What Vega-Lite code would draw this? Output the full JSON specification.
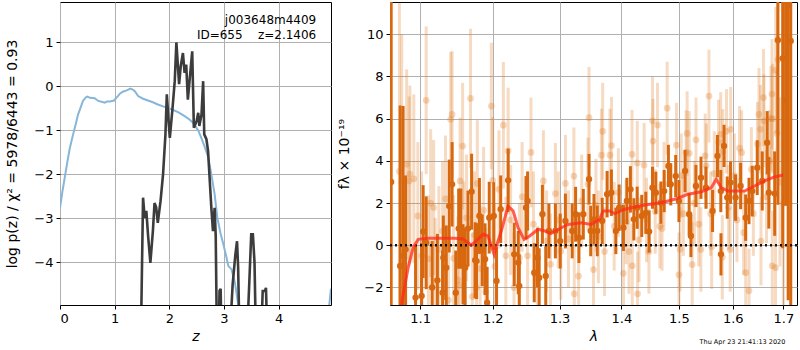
{
  "$schema": "https://vega.github.io/schema/vega-lite/v6.json",
  "background": "white",
  "padding": {"left": 5, "top": 1, "right": 1, "bottom": 2},
  "bounds": "flush",
  "spacing": 59,
  "config": {
    "font": "DejaVu Sans",
    "view": {"stroke": "black", "strokeWidth": 1},
    "axis": {
      "domain": false,
      "gridColor": "#b0b0b0",
      "gridWidth": 1,
      "tickColor": "black",
      "tickSize": 4,
      "labelColor": "black",
      "labelFontSize": 13,
      "labelPadding": 3,
      "titleFontSize": 14,
      "titleFontWeight": "normal",
      "titleColor": "black"
    }
  },
  "datasets": {
    "blue": [
      {"z": 0, "lp": -2.76}, {"z": 0.043, "lp": -2.4}, {"z": 0.086, "lp": -2.08}, {"z": 0.13, "lp": -1.75},
      {"z": 0.18, "lp": -1.4}, {"z": 0.24, "lp": -1.09}, {"z": 0.29, "lp": -0.85}, {"z": 0.33, "lp": -0.64},
      {"z": 0.38, "lp": -0.47}, {"z": 0.42, "lp": -0.33}, {"z": 0.47, "lp": -0.25}, {"z": 0.5, "lp": -0.23},
      {"z": 0.55, "lp": -0.26}, {"z": 0.635, "lp": -0.27}, {"z": 0.7, "lp": -0.33}, {"z": 0.76, "lp": -0.35},
      {"z": 0.82, "lp": -0.37}, {"z": 0.86, "lp": -0.34}, {"z": 0.91, "lp": -0.34}, {"z": 0.99, "lp": -0.32},
      {"z": 1.03, "lp": -0.26}, {"z": 1.06, "lp": -0.22}, {"z": 1.1, "lp": -0.16}, {"z": 1.15, "lp": -0.12},
      {"z": 1.22, "lp": -0.09}, {"z": 1.29, "lp": -0.05}, {"z": 1.33, "lp": -0.07}, {"z": 1.37, "lp": -0.11},
      {"z": 1.43, "lp": -0.22}, {"z": 1.52, "lp": -0.28}, {"z": 1.61, "lp": -0.32}, {"z": 1.7, "lp": -0.36},
      {"z": 1.79, "lp": -0.41}, {"z": 1.9, "lp": -0.46}, {"z": 2.04, "lp": -0.52}, {"z": 2.17, "lp": -0.59},
      {"z": 2.28, "lp": -0.675}, {"z": 2.37, "lp": -0.75}, {"z": 2.44, "lp": -0.83}, {"z": 2.53, "lp": -1.0},
      {"z": 2.59, "lp": -1.18}, {"z": 2.65, "lp": -1.38}, {"z": 2.71, "lp": -1.6}, {"z": 2.77, "lp": -2.0},
      {"z": 2.83, "lp": -2.45}, {"z": 2.88, "lp": -2.99}, {"z": 2.94, "lp": -3.35}, {"z": 2.99, "lp": -3.59},
      {"z": 3.04, "lp": -3.85}, {"z": 3.08, "lp": -4.08}, {"z": 3.14, "lp": -4.16}, {"z": 3.2, "lp": -4.45},
      {"z": 3.26, "lp": -4.95}, {"z": 3.35, "lp": -5.6}, {"z": 3.6, "lp": -6.5}, {"z": 4.2, "lp": -7},
      {"z": 4.8, "lp": -6}, {"z": 4.9, "lp": -5.3}, {"z": 4.96, "lp": -4.6}
    ],
    "gray": [
      {"z": 1.47, "lp": -7}, {"z": 1.49, "lp": -4.97}, {"z": 1.52, "lp": -2.53}, {"z": 1.55, "lp": -2.99},
      {"z": 1.58, "lp": -2.83}, {"z": 1.61, "lp": -3.36}, {"z": 1.654, "lp": -4.01}, {"z": 1.7, "lp": -3.29},
      {"z": 1.73, "lp": -2.65}, {"z": 1.76, "lp": -2.75}, {"z": 1.79, "lp": -3.1}, {"z": 1.84, "lp": -2.61},
      {"z": 1.886, "lp": -2.0}, {"z": 1.93, "lp": -1.09}, {"z": 1.955, "lp": -0.18}, {"z": 1.985, "lp": -0.75},
      {"z": 2.01, "lp": -1.17}, {"z": 2.06, "lp": -0.49}, {"z": 2.1, "lp": 0.12}, {"z": 2.13, "lp": 1.0},
      {"z": 2.18, "lp": 0.05}, {"z": 2.21, "lp": 0.46}, {"z": 2.25, "lp": 0.76}, {"z": 2.28, "lp": 0.31},
      {"z": 2.31, "lp": 0.5}, {"z": 2.34, "lp": -0.3}, {"z": 2.42, "lp": 0.8}, {"z": 2.45, "lp": -0.94},
      {"z": 2.5, "lp": -0.79}, {"z": 2.53, "lp": -0.6}, {"z": 2.55, "lp": -0.9}, {"z": 2.59, "lp": -0.64},
      {"z": 2.62, "lp": 0.12}, {"z": 2.64, "lp": -1.09}, {"z": 2.68, "lp": -1.2}, {"z": 2.71, "lp": -1.47},
      {"z": 2.77, "lp": -2.76}, {"z": 2.8, "lp": -3.29}, {"z": 2.83, "lp": -2.76}, {"z": 2.85, "lp": -3.4},
      {"z": 2.87, "lp": -5.5}, {"z": 2.9, "lp": -6}, {"z": 2.92, "lp": -4.65}, {"z": 2.94, "lp": -4.6},
      {"z": 2.96, "lp": -6}, {"z": 3.05, "lp": -7}, {"z": 3.13, "lp": -5.2}, {"z": 3.16, "lp": -4.5},
      {"z": 3.21, "lp": -3.82}, {"z": 3.24, "lp": -3.52}, {"z": 3.26, "lp": -4.1}, {"z": 3.29, "lp": -6},
      {"z": 3.38, "lp": -7}, {"z": 3.46, "lp": -4.6}, {"z": 3.5, "lp": -3.36}, {"z": 3.53, "lp": -3.36},
      {"z": 3.56, "lp": -4.0}, {"z": 3.59, "lp": -6}, {"z": 3.66, "lp": -6.5}, {"z": 3.71, "lp": -4.65},
      {"z": 3.75, "lp": -4.65}, {"z": 3.77, "lp": -4.58}, {"z": 3.8, "lp": -6}, {"z": 3.9, "lp": -8}
    ],
    "notes": [
      {"z": 4.69, "lp": 1.42, "t": "j003648m4409"},
      {"z": 4.69, "lp": 1.08, "t": "ID=655\u00a0\u00a0\u00a0\u00a0z=2.1406"}
    ],
    "stamp": [
      {"l": 1.704, "f": -4.68, "t": "Thu Apr 23 21:41:13 2020"}
    ],
    "zero": [
      {"f": 0}
    ],
    "model": [
      {"l": 1.0735, "f": -3.5}, {"l": 1.0766, "f": -2.6}, {"l": 1.0843, "f": -1.06}, {"l": 1.0908, "f": -0.11},
      {"l": 1.0974, "f": 0.28}, {"l": 1.1106, "f": 0.33}, {"l": 1.1467, "f": 0.33}, {"l": 1.158, "f": 0.3},
      {"l": 1.1697, "f": 0.0}, {"l": 1.1862, "f": 0.52}, {"l": 1.1933, "f": 0.44}, {"l": 1.202, "f": -0.43},
      {"l": 1.2053, "f": -0.03}, {"l": 1.2125, "f": 0.68}, {"l": 1.2222, "f": 1.86}, {"l": 1.2296, "f": 1.63},
      {"l": 1.237, "f": 0.83}, {"l": 1.246, "f": 0.28}, {"l": 1.2544, "f": 0.44}, {"l": 1.267, "f": 0.76},
      {"l": 1.2771, "f": 0.68}, {"l": 1.2864, "f": 0.55}, {"l": 1.3028, "f": 0.83}, {"l": 1.3133, "f": 0.99},
      {"l": 1.3344, "f": 1.07}, {"l": 1.3505, "f": 0.99}, {"l": 1.3641, "f": 1.23}, {"l": 1.3696, "f": 1.63},
      {"l": 1.3806, "f": 1.63}, {"l": 1.3889, "f": 1.5}, {"l": 1.4056, "f": 1.71}, {"l": 1.4397, "f": 1.91},
      {"l": 1.4686, "f": 2.02}, {"l": 1.4923, "f": 2.18}, {"l": 1.5163, "f": 2.42}, {"l": 1.5407, "f": 2.54},
      {"l": 1.5593, "f": 2.73}, {"l": 1.5685, "f": 3.13}, {"l": 1.578, "f": 2.73}, {"l": 1.5907, "f": 2.57},
      {"l": 1.6228, "f": 2.57}, {"l": 1.6423, "f": 2.81}, {"l": 1.6621, "f": 3.05}, {"l": 1.6822, "f": 3.24},
      {"l": 1.6996, "f": 3.33}
    ],
    "dark": [
      {"l": 1.0625, "f": 3.0, "e": 12}, {"l": 1.074, "f": -0.98, "e": 7.6}, {"l": 1.0778, "f": -0.5, "e": 7.1},
      {"l": 1.081, "f": -0.19, "e": 3.5}, {"l": 1.094, "f": -2.48, "e": 2.5}, {"l": 1.102, "f": -2.4, "e": 2.5},
      {"l": 1.104, "f": 0.65, "e": 2.2}, {"l": 1.108, "f": 0.12, "e": 2.2}, {"l": 1.116, "f": -2.0, "e": 2.2},
      {"l": 1.123, "f": -1.66, "e": 2.2}, {"l": 1.13, "f": -2.25, "e": 2.0}, {"l": 1.131, "f": -0.59, "e": 2.0},
      {"l": 1.135, "f": -1.06, "e": 2.0}, {"l": 1.139, "f": 1.86, "e": 2.2}, {"l": 1.143, "f": 2.89, "e": 2.0},
      {"l": 1.148, "f": -2.25, "e": 2.0}, {"l": 1.152, "f": 0.79, "e": 1.9}, {"l": 1.155, "f": 0.79, "e": 1.9},
      {"l": 1.158, "f": -0.9, "e": 1.9}, {"l": 1.161, "f": -1.06, "e": 1.9}, {"l": 1.165, "f": 0.79, "e": 1.8},
      {"l": 1.17, "f": 2.54, "e": 1.8}, {"l": 1.175, "f": -0.71, "e": 1.8}, {"l": 1.177, "f": -0.75, "e": 1.8},
      {"l": 1.181, "f": 1.39, "e": 1.8}, {"l": 1.185, "f": -0.24, "e": 1.7}, {"l": 1.189, "f": -0.66, "e": 1.7},
      {"l": 1.192, "f": -2.72, "e": 1.7}, {"l": 1.195, "f": 1.31, "e": 1.7}, {"l": 1.2015, "f": 1.39, "e": 1.6},
      {"l": 1.2055, "f": -1.69, "e": 1.6}, {"l": 1.2115, "f": 1.71, "e": 1.6}, {"l": 1.2224, "f": 3.08, "e": 1.5},
      {"l": 1.2313, "f": -0.43, "e": 1.5}, {"l": 1.2373, "f": -0.82, "e": 1.5}, {"l": 1.2388, "f": -1.93, "e": 1.5},
      {"l": 1.2488, "f": 1.78, "e": 1.5}, {"l": 1.2512, "f": 2.1, "e": 1.4}, {"l": 1.2612, "f": -1.3, "e": 1.4},
      {"l": 1.2661, "f": -0.59, "e": 1.4}, {"l": 1.2687, "f": -1.54, "e": 1.4}, {"l": 1.2736, "f": 1.47, "e": 1.4},
      {"l": 1.2787, "f": -1.45, "e": 1.4}, {"l": 1.2836, "f": 0.68, "e": 1.3}, {"l": 1.2936, "f": 0.68, "e": 1.3},
      {"l": 1.3011, "f": 0.2, "e": 1.3}, {"l": 1.3092, "f": 1.15, "e": 1.3}, {"l": 1.3199, "f": 0.68, "e": 1.3},
      {"l": 1.3253, "f": 1.47, "e": 1.3}, {"l": 1.3306, "f": 0.36, "e": 1.2}, {"l": 1.3376, "f": 1.47, "e": 1.2},
      {"l": 1.3468, "f": 3.13, "e": 1.2}, {"l": 1.3495, "f": 0.68, "e": 1.2}, {"l": 1.3548, "f": 1.23, "e": 1.2},
      {"l": 1.3602, "f": 0.68, "e": 1.2}, {"l": 1.3682, "f": 1.15, "e": 1.1}, {"l": 1.3763, "f": 2.42, "e": 1.1},
      {"l": 1.3834, "f": 2.49, "e": 1.1}, {"l": 1.3908, "f": 0.68, "e": 1.1}, {"l": 1.3963, "f": 1.78, "e": 1.1},
      {"l": 1.4035, "f": 0.83, "e": 1.1}, {"l": 1.4093, "f": 2.1, "e": 1.1}, {"l": 1.4153, "f": 2.65, "e": 1.1},
      {"l": 1.4211, "f": 1.23, "e": 1.0}, {"l": 1.4268, "f": 1.78, "e": 1.0}, {"l": 1.4346, "f": 1.39, "e": 1.0},
      {"l": 1.4416, "f": 1.54, "e": 1.0}, {"l": 1.4474, "f": 0.65, "e": 1.0}, {"l": 1.4532, "f": 2.73, "e": 1.0},
      {"l": 1.4591, "f": 2.49, "e": 1.0}, {"l": 1.4679, "f": 2.02, "e": 1.0}, {"l": 1.4737, "f": 2.57, "e": 1.0},
      {"l": 1.4812, "f": 3.76, "e": 1.0}, {"l": 1.4854, "f": 2.89, "e": 1.0}, {"l": 1.4942, "f": 3.28, "e": 1.0},
      {"l": 1.5, "f": 2.1, "e": 1.0}, {"l": 1.5111, "f": 3.52, "e": 1.0}, {"l": 1.5185, "f": 1.47, "e": 1.0},
      {"l": 1.5217, "f": 0.44, "e": 1.0}, {"l": 1.5309, "f": 2.81, "e": 1.0}, {"l": 1.5402, "f": 3.2, "e": 1.0},
      {"l": 1.5494, "f": 2.73, "e": 1.0}, {"l": 1.5617, "f": 1.63, "e": 1.0}, {"l": 1.5709, "f": 4.23, "e": 1.0},
      {"l": 1.5772, "f": 2.57, "e": 1.0}, {"l": 1.5775, "f": -0.43, "e": 1.0}, {"l": 1.5833, "f": 4.71, "e": 1.0},
      {"l": 1.5894, "f": 2.26, "e": 1.0}, {"l": 1.5957, "f": 2.97, "e": 1.0}, {"l": 1.6053, "f": 2.26, "e": 1.1},
      {"l": 1.6151, "f": 2.81, "e": 1.1}, {"l": 1.6249, "f": 1.31, "e": 1.1}, {"l": 1.6314, "f": 2.1, "e": 1.1},
      {"l": 1.6378, "f": 2.57, "e": 1.2}, {"l": 1.6476, "f": 3.68, "e": 1.3}, {"l": 1.6575, "f": 3.05, "e": 1.4},
      {"l": 1.6673, "f": 4.86, "e": 1.5}, {"l": 1.6706, "f": 2.49, "e": 1.7}, {"l": 1.6824, "f": 2.45, "e": 2.0},
      {"l": 1.6888, "f": 9.72, "e": 7.8}, {"l": 1.6986, "f": 8.86, "e": 9}, {"l": 1.7045, "f": 6.87, "e": 5},
      {"l": 1.7098, "f": 11.39, "e": 14}, {"l": 1.7151, "f": 9.68, "e": 13}
    ],
    "light": [
      {"l": 1.073, "f": 3.5, "e": 8}, {"l": 1.076, "f": 3.0, "e": 7}, {"l": 1.0824, "f": 3.84, "e": 4.5},
      {"l": 1.0857, "f": 3.05, "e": 4}, {"l": 1.0866, "f": 3.37, "e": 4.2}, {"l": 1.0917, "f": 3.15, "e": 4},
      {"l": 1.097, "f": 1.39, "e": 3.5}, {"l": 1.102, "f": -0.5, "e": 4}, {"l": 1.108, "f": 6.87, "e": 3.5},
      {"l": 1.111, "f": -0.64, "e": 3}, {"l": 1.114, "f": 2.0, "e": 3.5}, {"l": 1.118, "f": 1.79, "e": 3.2},
      {"l": 1.12, "f": -1.7, "e": 3}, {"l": 1.125, "f": -0.2, "e": 3}, {"l": 1.13, "f": 0.68, "e": 3.3},
      {"l": 1.134, "f": 2.2, "e": 3}, {"l": 1.138, "f": -2.6, "e": 3}, {"l": 1.141, "f": 5.97, "e": 3.2},
      {"l": 1.143, "f": 6.2, "e": 3}, {"l": 1.145, "f": -0.62, "e": 3}, {"l": 1.151, "f": -1.64, "e": 3},
      {"l": 1.153, "f": -1.9, "e": 3}, {"l": 1.154, "f": 3.05, "e": 3}, {"l": 1.1575, "f": 4.7, "e": 3},
      {"l": 1.159, "f": 0.02, "e": 3}, {"l": 1.163, "f": 1.3, "e": 3}, {"l": 1.1685, "f": 6.96, "e": 3.3},
      {"l": 1.171, "f": -2.43, "e": 3}, {"l": 1.174, "f": 0.5, "e": 3}, {"l": 1.177, "f": -2.0, "e": 3},
      {"l": 1.178, "f": 2.93, "e": 3}, {"l": 1.182, "f": -1.1, "e": 3}, {"l": 1.187, "f": 1.66, "e": 3},
      {"l": 1.19, "f": -2.2, "e": 3}, {"l": 1.198, "f": 6.6, "e": 3}, {"l": 1.2, "f": 3.08, "e": 3},
      {"l": 1.203, "f": -1.0, "e": 3}, {"l": 1.209, "f": 2.65, "e": 2.8}, {"l": 1.2154, "f": 5.69, "e": 3},
      {"l": 1.219, "f": -0.5, "e": 2.8}, {"l": 1.2224, "f": 4.47, "e": 3}, {"l": 1.226, "f": 1.2, "e": 2.6},
      {"l": 1.231, "f": -2.0, "e": 2.6}, {"l": 1.239, "f": -0.6, "e": 2.6}, {"l": 1.243, "f": 2.3, "e": 2.6},
      {"l": 1.2512, "f": -0.5, "e": 2.6}, {"l": 1.2563, "f": 4.4, "e": 2.6}, {"l": 1.26, "f": 1.0, "e": 2.5},
      {"l": 1.266, "f": -1.6, "e": 2.5}, {"l": 1.2751, "f": 3.05, "e": 2.4}, {"l": 1.28, "f": 0.2, "e": 2.4},
      {"l": 1.286, "f": -0.9, "e": 2.4}, {"l": 1.2936, "f": 2.45, "e": 2.4}, {"l": 1.298, "f": 1.2, "e": 2.3},
      {"l": 1.302, "f": -0.28, "e": 2.3}, {"l": 1.3092, "f": 2.93, "e": 2.3}, {"l": 1.314, "f": 0.3, "e": 2.3},
      {"l": 1.3226, "f": 3.28, "e": 2.3}, {"l": 1.3232, "f": -2.3, "e": 2.3}, {"l": 1.33, "f": -1.46, "e": 2.3},
      {"l": 1.335, "f": 2.1, "e": 2.2}, {"l": 1.3468, "f": 6.05, "e": 2.4}, {"l": 1.345, "f": 2.9, "e": 2.2},
      {"l": 1.354, "f": -1.15, "e": 2.2}, {"l": 1.358, "f": 1.9, "e": 2.2}, {"l": 1.362, "f": 0.4, "e": 2.2},
      {"l": 1.367, "f": 4.27, "e": 2.2}, {"l": 1.369, "f": 5.4, "e": 2.3}, {"l": 1.372, "f": -0.3, "e": 2.1},
      {"l": 1.381, "f": 4.27, "e": 2.2}, {"l": 1.3836, "f": 4.73, "e": 2.3}, {"l": 1.388, "f": 0.9, "e": 2.1},
      {"l": 1.395, "f": 2.5, "e": 2.1}, {"l": 1.4035, "f": -1.33, "e": 2.1}, {"l": 1.408, "f": 1.1, "e": 2.0},
      {"l": 1.413, "f": -0.3, "e": 2.0}, {"l": 1.418, "f": 4.31, "e": 2.1}, {"l": 1.4185, "f": -0.97, "e": 2.0},
      {"l": 1.427, "f": 3.9, "e": 2.0}, {"l": 1.4275, "f": -2.3, "e": 2.0}, {"l": 1.43, "f": 0.26, "e": 2.0},
      {"l": 1.4387, "f": 3.8, "e": 2.0}, {"l": 1.443, "f": 1.2, "e": 2.0}, {"l": 1.447, "f": -0.29, "e": 2.0},
      {"l": 1.4532, "f": 5.9, "e": 2.1}, {"l": 1.454, "f": 4.94, "e": 2.0}, {"l": 1.458, "f": 1.6, "e": 2.0},
      {"l": 1.462, "f": 5.7, "e": 2.0}, {"l": 1.466, "f": 0.9, "e": 2.0}, {"l": 1.47, "f": 0.8, "e": 2.0},
      {"l": 1.4735, "f": 2.9, "e": 2.0}, {"l": 1.479, "f": 6.5, "e": 2.2}, {"l": 1.4956, "f": 4.75, "e": 2.0},
      {"l": 1.5, "f": -1.4, "e": 2.0}, {"l": 1.502, "f": -0.19, "e": 2.0}, {"l": 1.504, "f": 3.3, "e": 2.0},
      {"l": 1.508, "f": 1.5, "e": 2.0}, {"l": 1.513, "f": 4.4, "e": 2.0}, {"l": 1.5148, "f": 5.3, "e": 2.0},
      {"l": 1.5185, "f": 4.36, "e": 2.0}, {"l": 1.524, "f": -0.91, "e": 2.0}, {"l": 1.528, "f": 2.0, "e": 2.0},
      {"l": 1.531, "f": 5.0, "e": 2.0}, {"l": 1.536, "f": 1.0, "e": 2.0}, {"l": 1.54, "f": -0.2, "e": 2.0},
      {"l": 1.548, "f": 4.24, "e": 2.0}, {"l": 1.55, "f": 3.77, "e": 2.0}, {"l": 1.555, "f": 7.07, "e": 2.2},
      {"l": 1.558, "f": 1.5, "e": 2.0}, {"l": 1.56, "f": -0.07, "e": 2.0}, {"l": 1.565, "f": 3.4, "e": 2.0},
      {"l": 1.573, "f": 4.9, "e": 2.0}, {"l": 1.577, "f": 5.26, "e": 2.0}, {"l": 1.58, "f": -0.57, "e": 2.0},
      {"l": 1.581, "f": 4.45, "e": 2.0}, {"l": 1.588, "f": 5.4, "e": 2.0}, {"l": 1.592, "f": 1.8, "e": 2.0},
      {"l": 1.595, "f": -0.2, "e": 2.0}, {"l": 1.596, "f": 5.5, "e": 2.0}, {"l": 1.603, "f": 3.3, "e": 2.0},
      {"l": 1.608, "f": 1.2, "e": 2.0}, {"l": 1.613, "f": 4.6, "e": 2.0}, {"l": 1.617, "f": 4.4, "e": 2.0},
      {"l": 1.621, "f": 0.6, "e": 2.0}, {"l": 1.625, "f": -1.3, "e": 2.0}, {"l": 1.6314, "f": -2.16, "e": 2.0},
      {"l": 1.636, "f": 3.6, "e": 2.0}, {"l": 1.64, "f": 1.5, "e": 2.0}, {"l": 1.648, "f": 4.8, "e": 2.0},
      {"l": 1.651, "f": 6.2, "e": 2.2}, {"l": 1.654, "f": 5.5, "e": 2.1}, {"l": 1.655, "f": 0.2, "e": 2.1},
      {"l": 1.66, "f": 7.0, "e": 2.3}, {"l": 1.661, "f": 5.9, "e": 2.2}, {"l": 1.666, "f": 2.3, "e": 2.2},
      {"l": 1.672, "f": 4.0, "e": 2.4}, {"l": 1.675, "f": 6.0, "e": 2.5}, {"l": 1.677, "f": 7.17, "e": 2.6},
      {"l": 1.6775, "f": -0.97, "e": 2.6}, {"l": 1.678, "f": 6.0, "e": 2.6}, {"l": 1.684, "f": -1.06, "e": 3},
      {"l": 1.6845, "f": 8.3, "e": 3}, {"l": 1.687, "f": 5.3, "e": 3}, {"l": 1.689, "f": 8.8, "e": 3.5},
      {"l": 1.693, "f": 3.0, "e": 4}, {"l": 1.7, "f": 2.0, "e": 5}
    ]
  },
  "hconcat": [
    {
      "width": 271,
      "height": 303,
      "layer": [
        {
          "data": {"name": "blue"},
          "mark": {"type": "line", "color": "#86b6da", "strokeWidth": 2, "clip": true},
          "encoding": {
            "x": {"field": "z", "type": "quantitative",
                  "scale": {"domain": [0, 4.96], "nice": false, "zero": false},
                  "axis": {"values": [0, 1, 2, 3, 4], "format": "d", "title": "z", "titleFontStyle": "italic", "titlePadding": 4}},
            "y": {"field": "lp", "type": "quantitative",
                  "scale": {"domain": [-4.97, 1.92], "nice": false, "zero": false},
                  "axis": {"values": [-4, -3, -2, -1, 0, 1], "format": "d", "title": "log p(z) / χ² = 5978/6443 = 0.93", "titlePadding": 14}}
          }
        },
        {
          "data": {"name": "gray"},
          "mark": {"type": "line", "color": "#3c3c3c", "strokeWidth": 2.6, "clip": true},
          "encoding": {
            "x": {"field": "z", "type": "quantitative", "title": "z"},
            "y": {"field": "lp", "type": "quantitative", "title": "log p(z) / χ² = 5978/6443 = 0.93"}
          }
        },
        {
          "data": {"name": "notes"},
          "mark": {"type": "text", "align": "right", "baseline": "alphabetic", "fontSize": 12, "color": "black"},
          "encoding": {
            "x": {"field": "z", "type": "quantitative", "title": "z"},
            "y": {"field": "lp", "type": "quantitative", "title": "log p(z) / χ² = 5978/6443 = 0.93"},
            "text": {"field": "t"}
          }
        }
      ]
    },
    {
      "width": 407,
      "height": 303,
      "layer": [
        {
          "data": {"name": "light"},
          "mark": {"type": "errorbar", "color": "#e07a20", "opacity": 0.28, "thickness": 3, "clip": true},
          "encoding": {
            "x": {"field": "l", "type": "quantitative",
                  "scale": {"type": "log", "domain": [1.061, 1.728], "nice": false, "zero": false},
                  "axis": {"values": [1.1, 1.2, 1.3, 1.4, 1.5, 1.6, 1.7], "format": ".1f", "title": "λ", "titleFontStyle": "italic", "titlePadding": 4}},
            "y": {"field": "f", "type": "quantitative",
                  "scale": {"domain": [-2.83, 11.53], "nice": false, "zero": false},
                  "axis": {"values": [-2, 0, 2, 4, 6, 8, 10], "format": "d", "title": "fλ × 10⁻¹⁹", "titlePadding": 12}},
            "yError": {"field": "e"}
          }
        },
        {
          "data": {"name": "light"},
          "mark": {"type": "point", "filled": true, "color": "#e07a20", "opacity": 0.3, "size": 45, "clip": true},
          "encoding": {
            "x": {"field": "l", "type": "quantitative", "title": "λ"},
            "y": {"field": "f", "type": "quantitative", "title": "fλ × 10⁻¹⁹"}
          }
        },
        {
          "data": {"name": "dark"},
          "mark": {"type": "errorbar", "color": "#d8680f", "opacity": 1, "thickness": 3, "clip": true},
          "encoding": {
            "x": {"field": "l", "type": "quantitative", "title": "λ"},
            "y": {"field": "f", "type": "quantitative", "title": "fλ × 10⁻¹⁹"},
            "yError": {"field": "e"}
          }
        },
        {
          "data": {"name": "dark"},
          "mark": {"type": "point", "filled": true, "color": "#d8680f", "opacity": 1, "size": 40, "clip": true},
          "encoding": {
            "x": {"field": "l", "type": "quantitative", "title": "λ"},
            "y": {"field": "f", "type": "quantitative", "title": "fλ × 10⁻¹⁹"}
          }
        },
        {
          "data": {"name": "zero"},
          "mark": {"type": "rule", "color": "#111111", "strokeWidth": 2.5, "strokeDash": [2, 3]},
          "encoding": {"y": {"field": "f", "type": "quantitative", "title": "fλ × 10⁻¹⁹"}}
        },
        {
          "data": {"name": "model"},
          "mark": {"type": "line", "color": "#ff2a1a", "opacity": 0.75, "strokeWidth": 3, "clip": true},
          "encoding": {
            "x": {"field": "l", "type": "quantitative", "title": "λ"},
            "y": {"field": "f", "type": "quantitative", "title": "fλ × 10⁻¹⁹"}
          }
        },
        {
          "data": {"name": "stamp"},
          "mark": {"type": "text", "align": "right", "baseline": "alphabetic", "fontSize": 6.5, "color": "black"},
          "encoding": {
            "x": {"field": "l", "type": "quantitative", "title": "λ"},
            "y": {"field": "f", "type": "quantitative", "title": "fλ × 10⁻¹⁹"},
            "text": {"field": "t"}
          }
        }
      ]
    }
  ]
}
